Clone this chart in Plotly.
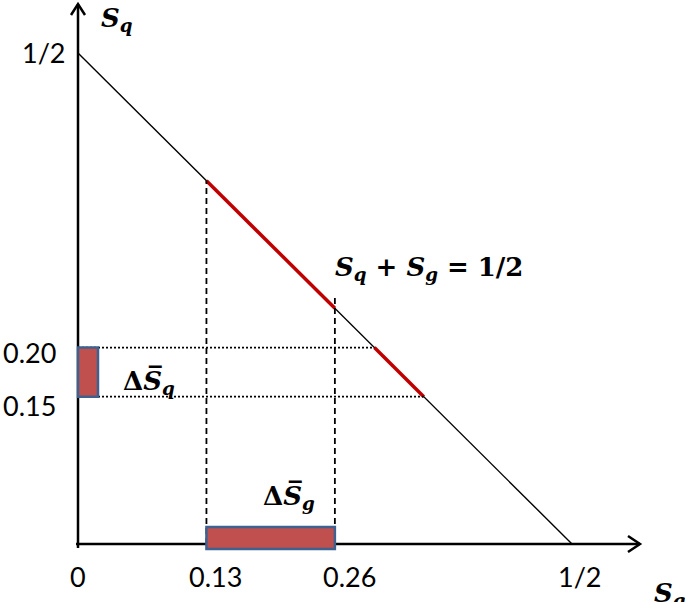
import plotly.graph_objects as go

# ---------------- data ----------------
HALF = 0.5                      # S_q + S_g = 1/2
SG_RANGE = [0.13, 0.26]         # Delta S_g interval on the S_g axis
SQ_RANGE = [0.15, 0.20]         # Delta S_q interval on the S_q axis
X_TICKS = [0, 0.13, 0.26, 0.5]
X_TICK_LABELS = ["0", "0.13", "0.26", "1/2"]
Y_TICKS = [0.15, 0.20, 0.5]
Y_TICK_LABELS = ["0.15", "0.20", "1/2"]

# ---------------- geometry (pixel mapping) ----------------
W, H = 685, 602
OX, OY = 78, 544           # origin in pixels
SX, SY = 988.0, 982.0      # pixels per unit


def dx(px):
    return (px - OX) / SX


def dy(py):
    return (OY - py) / SY


BLACK = "#000000"
RED = "#c00000"
FILL = "#c0504d"
EDGE = "#3e6190"
TICK_FONT = dict(family="Lato, Open Sans, sans-serif", size=27, color=BLACK)
MATH_FONT = dict(family="DejaVu Serif, Liberation Serif, serif", size=26, color=BLACK)

fig = go.Figure()

# main line S_q + S_g = 1/2
fig.add_trace(go.Scatter(x=[0, HALF], y=[HALF, 0], mode="lines",
                         line=dict(color=BLACK, width=1.4), hoverinfo="skip"))

# red segment over the S_g interval
fig.add_trace(go.Scatter(x=SG_RANGE, y=[HALF - v for v in SG_RANGE], mode="lines",
                         line=dict(color=RED, width=3.5), hoverinfo="skip"))
# red segment over the S_q interval
fig.add_trace(go.Scatter(x=[HALF - v for v in SQ_RANGE], y=SQ_RANGE, mode="lines",
                         line=dict(color=RED, width=3.5), hoverinfo="skip"))

# dashed verticals
for i, v in enumerate(SG_RANGE):
    top = HALF - v + (0.012 if i == 1 else 0)
    fig.add_trace(go.Scatter(x=[v, v], y=[0, top], mode="lines",
                             line=dict(color=BLACK, width=1.8, dash="6px,4px"), hoverinfo="skip"))
# dotted horizontals
for v in SQ_RANGE:
    fig.add_trace(go.Scatter(x=[0, HALF - v], y=[v, v], mode="lines",
                             line=dict(color=BLACK, width=1.8, dash="2px,2px"), hoverinfo="skip"))

shapes = []
# axes
shapes.append(dict(type="line", xref="x", yref="y", x0=dx(76), y0=0, x1=dx(640), y1=0,
                   line=dict(color=BLACK, width=2.5)))
shapes.append(dict(type="line", xref="x", yref="y", x0=0, y0=dy(548), x1=0, y1=dy(4),
                   line=dict(color=BLACK, width=2.5)))
# arrow chevrons
shapes.append(dict(type="path", xref="x", yref="y",
                   path=f"M{dx(628)},{dy(536)} L{dx(640)},{dy(544)} L{dx(628)},{dy(552)}",
                   line=dict(color=BLACK, width=2.5)))
shapes.append(dict(type="path", xref="x", yref="y",
                   path=f"M{dx(71)},{dy(15)} L{dx(78)},{dy(4)} L{dx(85)},{dy(15)}",
                   line=dict(color=BLACK, width=2.5)))

# interval rectangles
shapes.append(dict(type="rect", xref="x", yref="y", x0=SG_RANGE[0], x1=SG_RANGE[1],
                   y0=dy(549), y1=dy(527), fillcolor=FILL, line=dict(color=EDGE, width=2.5),
                   layer="above"))
shapes.append(dict(type="rect", xref="x", yref="y", x0=dx(78), x1=dx(98),
                   y0=SQ_RANGE[0], y1=SQ_RANGE[1], fillcolor=FILL, line=dict(color=EDGE, width=2.5),
                   layer="above"))

annotations = []
# x tick labels
xpix = {"0": 78, "0.13": 215, "0.26": 349, "1/2": 580}
for v, t in zip(X_TICKS, X_TICK_LABELS):
    annotations.append(dict(x=dx(xpix[t]), y=dy(576), xref="x", yref="y", text=t, showarrow=False,
                            font=TICK_FONT, xanchor="center", yanchor="middle"))
# y tick labels
ypix = {"0.15": 405, "0.20": 352, "1/2": 52}
for v, t in zip(Y_TICKS, Y_TICK_LABELS):
    annotations.append(dict(x=dx(68) if t == "1/2" else dx(58), y=dy(ypix[t]), xref="x", yref="y",
                            text=t, showarrow=False, font=TICK_FONT,
                            xanchor="right", yanchor="middle"))

# math labels
annotations += [
    dict(x=dx(99), y=dy(19), text="<b><i>S</i></b><sub><b><i>q</i></b></sub>",
         xanchor="left", yanchor="middle"),
    dict(x=dx(652), y=dy(594), text="<b><i>S</i></b><sub><b><i>g</i></b></sub>",
         xanchor="left", yanchor="middle"),
    dict(x=dx(333), y=dy(268),
         text="<b><i>S</i></b><sub><b><i>q</i></b></sub><b> + </b><b><i>S</i></b><sub><b><i>g</i></b></sub><b> = 1/2</b>",
         xanchor="left", yanchor="middle"),
    dict(x=dx(121), y=dy(382), text="<b>Δ<i>S\u0305</i></b><sub><b><i>q</i></b></sub>",
         xanchor="left", yanchor="middle"),
    dict(x=dx(261), y=dy(497), text="<b>Δ<i>S\u0305</i></b><sub><b><i>g</i></b></sub>",
         xanchor="left", yanchor="middle"),
]
for a in annotations[-5:]:
    a.update(xref="x", yref="y", showarrow=False, font=MATH_FONT)

fig.update_layout(
    width=W, height=H, autosize=False,
    margin=dict(l=0, r=0, t=0, b=0),
    paper_bgcolor="white", plot_bgcolor="white",
    showlegend=False,
    xaxis=dict(range=[dx(0), dx(W)], visible=False, fixedrange=True),
    yaxis=dict(range=[dy(H), dy(0)], visible=False, fixedrange=True),
    shapes=shapes, annotations=annotations,
)

fig.write_html("out.html", config={"staticPlot": True},
               post_script="document.body.style.margin='0';document.body.style.overflow='hidden';")
